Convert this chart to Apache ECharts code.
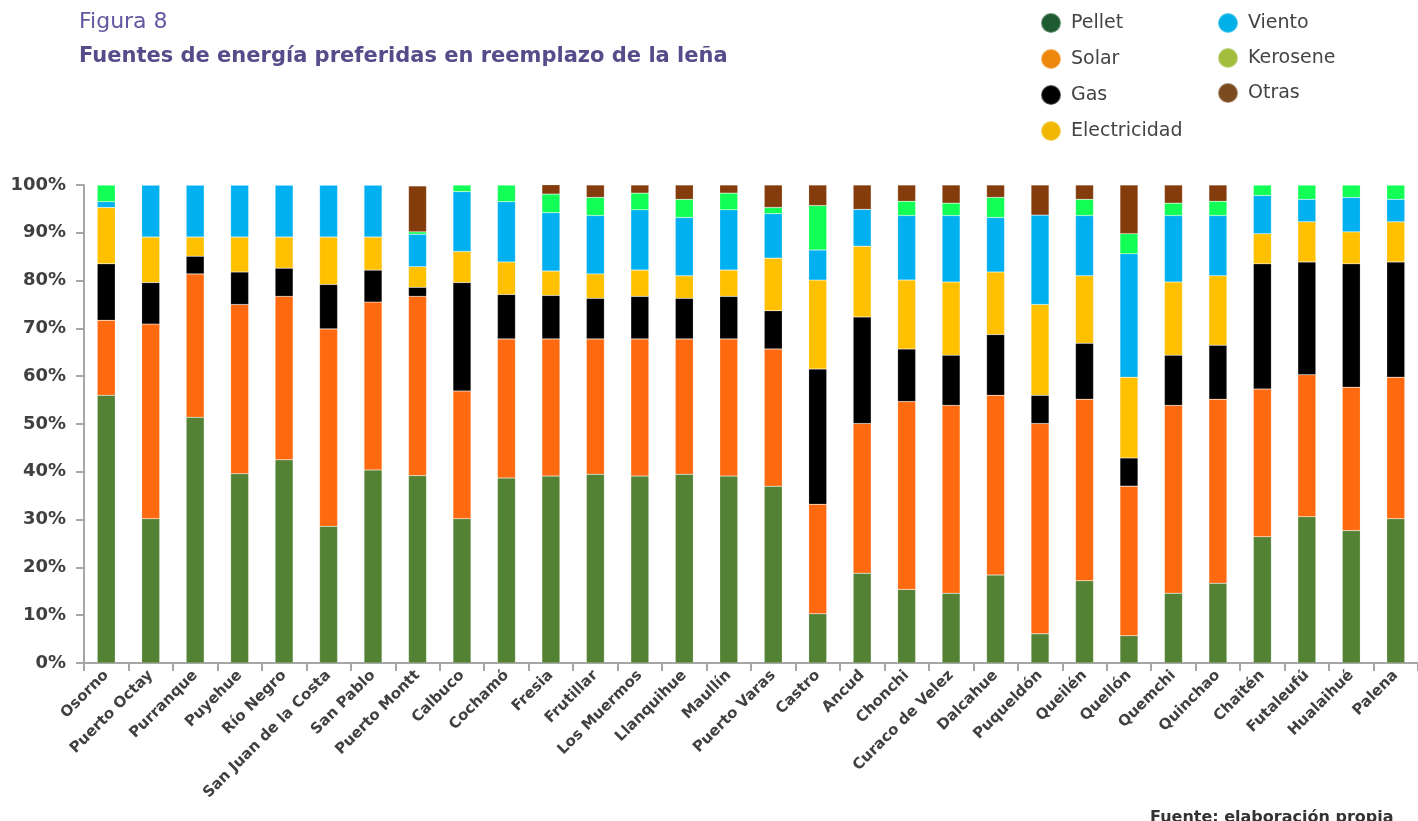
<!DOCTYPE html>
<html><head><meta charset="utf-8">
<script src="https://cdn.jsdelivr.net/npm/echarts@6/dist/echarts.min.js"></script>
<style>html,body{margin:0;padding:0;background:#fff;}#c{width:1418px;height:821px;}</style>
</head><body><div id="c"></div>
<script>
const categories = ['Osorno','Puerto Octay','Purranque','Puyehue','Río Negro','San Juan de la Costa','San Pablo','Puerto Montt','Calbuco','Cochamó','Fresia','Frutillar','Los Muermos','Llanquihue','Maullín','Puerto Varas','Castro','Ancud','Chonchi','Curaco de Velez','Dalcahue','Puqueldón','Queilén','Quellón','Quemchi','Quinchao','Chaitén','Futaleufú','Hualaihué','Palena'];
const pellet   = [56.0,30.2,51.4,39.6,42.5,28.6,40.4,39.2,30.2,38.7,39.1,39.5,39.1,39.5,39.1,37.0,10.3,18.8,15.4,14.6,18.4,6.1,17.2,5.7,14.6,16.7,26.4,30.6,27.7,30.2];
const solar    = [15.7,40.7,30.0,35.4,34.2,41.3,35.1,37.5,26.7,29.1,28.7,28.3,28.7,28.3,28.7,28.7,22.9,31.3,39.3,39.3,37.6,44.0,38.0,31.3,39.3,38.5,30.9,29.7,30.0,29.6];
const gas      = [11.8,8.7,3.7,6.8,5.9,9.3,6.7,1.9,22.7,9.3,9.1,8.5,8.9,8.5,8.9,8.0,28.3,22.3,11.0,10.5,12.7,5.9,11.7,5.9,10.5,11.3,26.2,23.6,25.8,24.1];
const electricidad = [11.8,9.5,4.0,7.3,6.5,9.9,6.9,4.3,6.5,6.8,5.1,5.1,5.5,4.7,5.5,11.0,18.6,14.8,14.4,15.3,13.1,19.0,14.1,16.9,15.3,14.5,6.3,8.4,6.7,8.4];
const viento   = [1.2,10.9,10.9,10.9,10.9,10.9,10.9,6.8,12.5,12.6,12.2,12.2,12.6,12.2,12.6,9.3,6.3,7.7,13.5,13.9,11.4,18.7,12.6,25.8,13.9,12.6,8.0,4.7,7.2,4.7];
const kerosene = [3.5,0,0,0,0,0,0,0.5,1.4,3.5,3.9,3.8,3.5,3.8,3.5,1.3,9.3,0,3.0,2.6,4.2,0,3.4,4.2,2.6,3.0,2.2,3.0,2.6,3.0];
const otras    = [0,0,0,0,0,0,0,9.6,0,0,2.1,2.6,1.7,3.0,1.7,4.7,4.3,5.1,3.4,3.8,2.6,6.3,3.0,10.2,3.8,3.4,0,0,0,0];
const yTicks = [0,10,20,30,40,50,60,70,80,90,100];

const seriesDefs = [
  {name:'Pellet', data:pellet, bar:'#548235', leg:'#1e5b30'},
  {name:'Solar', data:solar, bar:'#ff690f', leg:'#ef870c'},
  {name:'Gas', data:gas, bar:'#000000', leg:'#000000'},
  {name:'Electricidad', data:electricidad, bar:'#ffc000', leg:'#f2b705'},
  {name:'Viento', data:viento, bar:'#00b0f0', leg:'#00b0e6'},
  {name:'Kerosene', data:kerosene, bar:'#12ff55', leg:'#a3bd3d'},
  {name:'Otras', data:otras, bar:'#843c0c', leg:'#7b4a1f'}
];
const legItem = d => ({name:d.name, itemStyle:{color:d.leg}});
const FONT = '"DejaVu Sans", sans-serif';
const chart = echarts.init(document.getElementById('c'));
chart.setOption({
  animation:false,
  textStyle:{fontFamily:FONT},
  title:[
    {text:'Figura 8', left:74, top:6, textStyle:{fontSize:22, fontWeight:'normal', color:'#6257a0', fontFamily:FONT}},
    {text:'Fuentes de energía preferidas en reemplazo de la leña', left:74, top:41, textStyle:{fontSize:21, fontWeight:'bold', color:'#574c8a', fontFamily:FONT}}
  ],
  legend:[
    {data:seriesDefs.slice(0,4).map(legItem), orient:'vertical', left:1035, top:7, icon:'circle', itemWidth:20, itemHeight:20, itemGap:14,
     textStyle:{fontSize:19, color:'#444', padding:[0,0,0,5], fontFamily:FONT}},
    {data:seriesDefs.slice(4).map(legItem), orient:'vertical', left:1212, top:7, icon:'circle', itemWidth:20, itemHeight:20, itemGap:13,
     textStyle:{fontSize:19, color:'#444', padding:[0,0,0,5], fontFamily:FONT}}
  ],
  grid:{left:84, right:-7, top:185, bottom:158, containLabel:false},
  xAxis:{type:'category', data:categories,
    axisLine:{lineStyle:{color:'#a6a6a6', width:2}},
    axisTick:{show:true, length:8, lineStyle:{color:'#a6a6a6', width:2}},
    axisLabel:{rotate:45, interval:0, margin:10, fontSize:15, fontWeight:'bold', color:'#404040', fontFamily:FONT}},
  yAxis:{type:'value', min:0, max:100, interval:10,
    axisLine:{show:true, lineStyle:{color:'#a6a6a6', width:2}},
    axisTick:{show:true, length:8, lineStyle:{color:'#a6a6a6', width:2}},
    splitLine:{show:false},
    axisLabel:{formatter: v => yTicks.includes(v) ? v + '%' : '', margin:18, fontSize:18, fontWeight:'bold', color:'#404040', fontFamily:FONT}},
  series: seriesDefs.map(d => ({name:d.name, type:'bar', stack:'total', barWidth:18, data:d.data,
    itemStyle:{color:d.bar, borderColor:'rgba(255,255,255,0.35)', borderWidth:0.5}})),
  graphic:[{type:'text', left:1150, top:810, style:{text:'Fuente: elaboración propia', fontSize:16, fontWeight:'bold', fill:'#333', fontFamily:FONT}}]
});
</script>
</body></html>
